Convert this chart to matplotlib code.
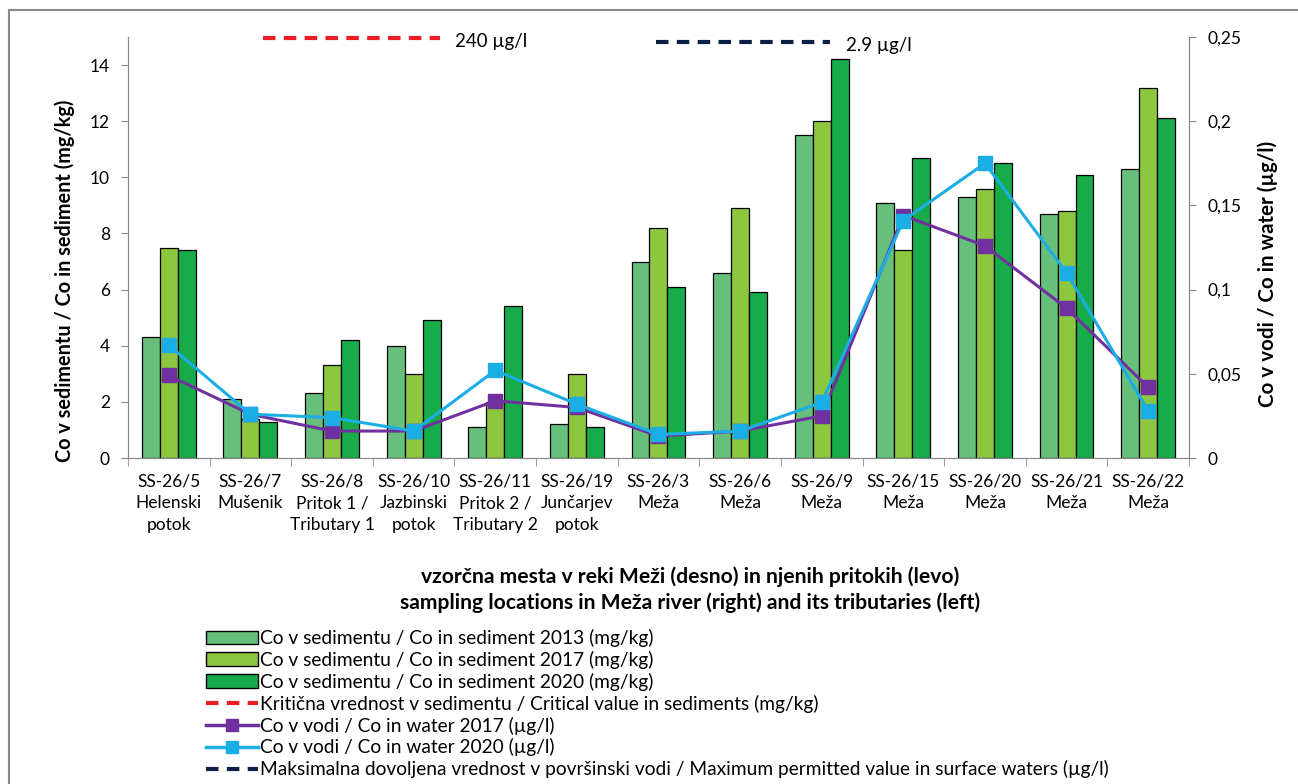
import matplotlib
matplotlib.use("Agg")
import matplotlib.pyplot as plt
import numpy as np
from matplotlib.lines import Line2D
from matplotlib.patches import Patch, Rectangle
from matplotlib.ticker import FuncFormatter, FixedLocator

plt.rcParams['font.family'] = ['Lato', 'DejaVu Sans']

# sampling sites
sites = ["SS-26/5\nHelenski\npotok", "SS-26/7\nMušenik", "SS-26/8\nPritok 1 /\nTributary 1",
         "SS-26/10\nJazbinski\npotok", "SS-26/11\nPritok 2 /\nTributary 2", "SS-26/19\nJunčarjev\npotok",
         "SS-26/3\nMeža", "SS-26/6\nMeža", "SS-26/9\nMeža", "SS-26/15\nMeža",
         "SS-26/20\nMeža", "SS-26/21\nMeža", "SS-26/22\nMeža"]

# Co in sediment (mg/kg)
sed_2013 = [4.3, 2.1, 2.3, 4.0, 1.1, 1.2, 7.0, 6.6, 11.5, 9.1, 9.3, 8.7, 10.3]
sed_2017 = [7.5, 1.4, 3.3, 3.0, 2.0, 3.0, 8.2, 8.9, 12.0, 7.4, 9.6, 8.8, 13.2]
sed_2020 = [7.4, 1.3, 4.2, 4.9, 5.4, 1.1, 6.1, 5.9, 14.2, 10.7, 10.5, 10.1, 12.1]

# Co in water (ug/l)
water_2017 = [0.049, 0.026, 0.016, 0.016, 0.034, 0.030, 0.013, 0.016, 0.025, 0.144, 0.126, 0.089, 0.042]
water_2020 = [0.067, 0.026, 0.024, 0.016, 0.052, 0.032, 0.014, 0.016, 0.033, 0.141, 0.175, 0.110, 0.028]

crit_sed = 240
max_water = 2.9

c13, c17, c20 = "#66c07c", "#8dc63f", "#17ab4a"
c_purple, c_cyan = "#7030a0", "#1aaee5"
c_red, c_navy = "#ee1c25", "#0e1f45"

fig = plt.figure(figsize=(12.98, 7.84), dpi=100)
ax = fig.add_axes([0.0986, 0.4158, 0.8174, 0.537])
ax2 = ax.twinx()

x = np.arange(len(sites))
w = 0.22
ax.bar(x - w, sed_2013, w, color=c13, edgecolor="black", linewidth=0.9)
ax.bar(x, sed_2017, w, color=c17, edgecolor="black", linewidth=0.9)
ax.bar(x + w, sed_2020, w, color=c20, edgecolor="black", linewidth=0.9)
ax.set_xlim(-0.5, len(sites) - 0.5)
ax.set_ylim(0, 15)
ax.set_yticks(np.arange(0, 15, 2))

ax2.plot(x, water_2017, color=c_purple, lw=2.2, marker="s", ms=10, zorder=5)
ax2.plot(x, water_2020, color=c_cyan, lw=2.2, marker="s", ms=10, zorder=6)
ax2.set_ylim(0, 0.25)
ax2.set_yticks(np.arange(0, 0.26, 0.05))
ax2.yaxis.set_major_formatter(FuncFormatter(lambda v, p: ("%g" % round(v, 2)).replace(".", ",")))

# off-scale limit values drawn as short markers at top
ax.plot([0.127, 0.294], [0.998, 0.998], transform=ax.transAxes, color=c_red, lw=3,
        ls=(0, (3, 2)), clip_on=False)
ax.text(0.308, 0.99, f"{crit_sed} µg/l", transform=ax.transAxes, fontsize=13.5, va="center")
ax.plot([0.498, 0.662], [0.988, 0.988], transform=ax.transAxes, color=c_navy, lw=3,
        ls=(0, (3, 2)), clip_on=False)
ax.text(0.677, 0.98, f"{max_water} µg/l", transform=ax.transAxes, fontsize=13.5, va="center")

for a in (ax, ax2):
    a.spines["top"].set_visible(False)
    for s in ("left", "right", "bottom"):
        a.spines[s].set_color("#888888")
ax.set_xticks(x)
ax.set_xticklabels(sites, fontsize=12.5, linespacing=1.45)
ax.xaxis.set_minor_locator(FixedLocator(np.arange(-0.5, len(sites), 1)))
ax.tick_params(axis="x", which="major", length=0, pad=11)
ax.tick_params(axis="x", which="minor", length=6, color="#888888")
ax.tick_params(axis="y", length=5, color="#888888", labelsize=12.5, pad=8)
ax2.tick_params(axis="y", length=5, color="#888888", labelsize=12.5, pad=8)

fig.text(0.05, 0.642, "Co v sedimentu / Co in sediment (mg/kg)", rotation=90, ha="center",
         va="center", fontsize=14.3, fontweight="bold")
fig.text(0.977, 0.65, "Co v vodi / Co in water (µg/l)", rotation=90, ha="center",
         va="center", fontsize=14.8, fontweight="bold")
fig.text(0.532, 0.264, "vzorčna mesta v reki Meži (desno) in njenih pritokih (levo)",
         ha="center", va="center", fontsize=15.2, fontweight="bold")
fig.text(0.532, 0.231, "sampling locations in Meža river (right) and its tributaries (left)",
         ha="center", va="center", fontsize=15.2, fontweight="bold")

handles = [
    Patch(facecolor=c13, edgecolor="black"),
    Patch(facecolor=c17, edgecolor="black"),
    Patch(facecolor=c20, edgecolor="black"),
    Line2D([], [], color=c_red, lw=3, ls=(0, (3, 2))),
    Line2D([], [], color=c_purple, lw=2.5, marker="s", ms=9),
    Line2D([], [], color=c_cyan, lw=2.5, marker="s", ms=9),
    Line2D([], [], color=c_navy, lw=3, ls=(0, (3, 2))),
]
labels = [
    "Co v sedimentu / Co in sediment 2013 (mg/kg)",
    "Co v sedimentu / Co in sediment 2017 (mg/kg)",
    "Co v sedimentu / Co in sediment 2020 (mg/kg)",
    "Kritična vrednost v sedimentu / Critical value in sediments (mg/kg)",
    "Co v vodi / Co in water 2017 (µg/l)",
    "Co v vodi / Co in water 2020 (µg/l)",
    "Maksimalna dovoljena vrednost v površinski vodi / Maximum permitted value in surface waters (µg/l)",
]
fig.legend(handles, labels, loc="upper left", bbox_to_anchor=(0.151, 0.21), frameon=False,
           fontsize=13.8, handlelength=2.75, handletextpad=0.1, labelspacing=0.2, borderpad=0)

fig.add_artist(Rectangle((9 / 1298, -0.1), 1.2, 1 - 10 / 784 + 0.1, transform=fig.transFigure,
                         fill=False, edgecolor="#888888", lw=1.5))

fig.savefig("out.png", dpi=100)
print('done')
